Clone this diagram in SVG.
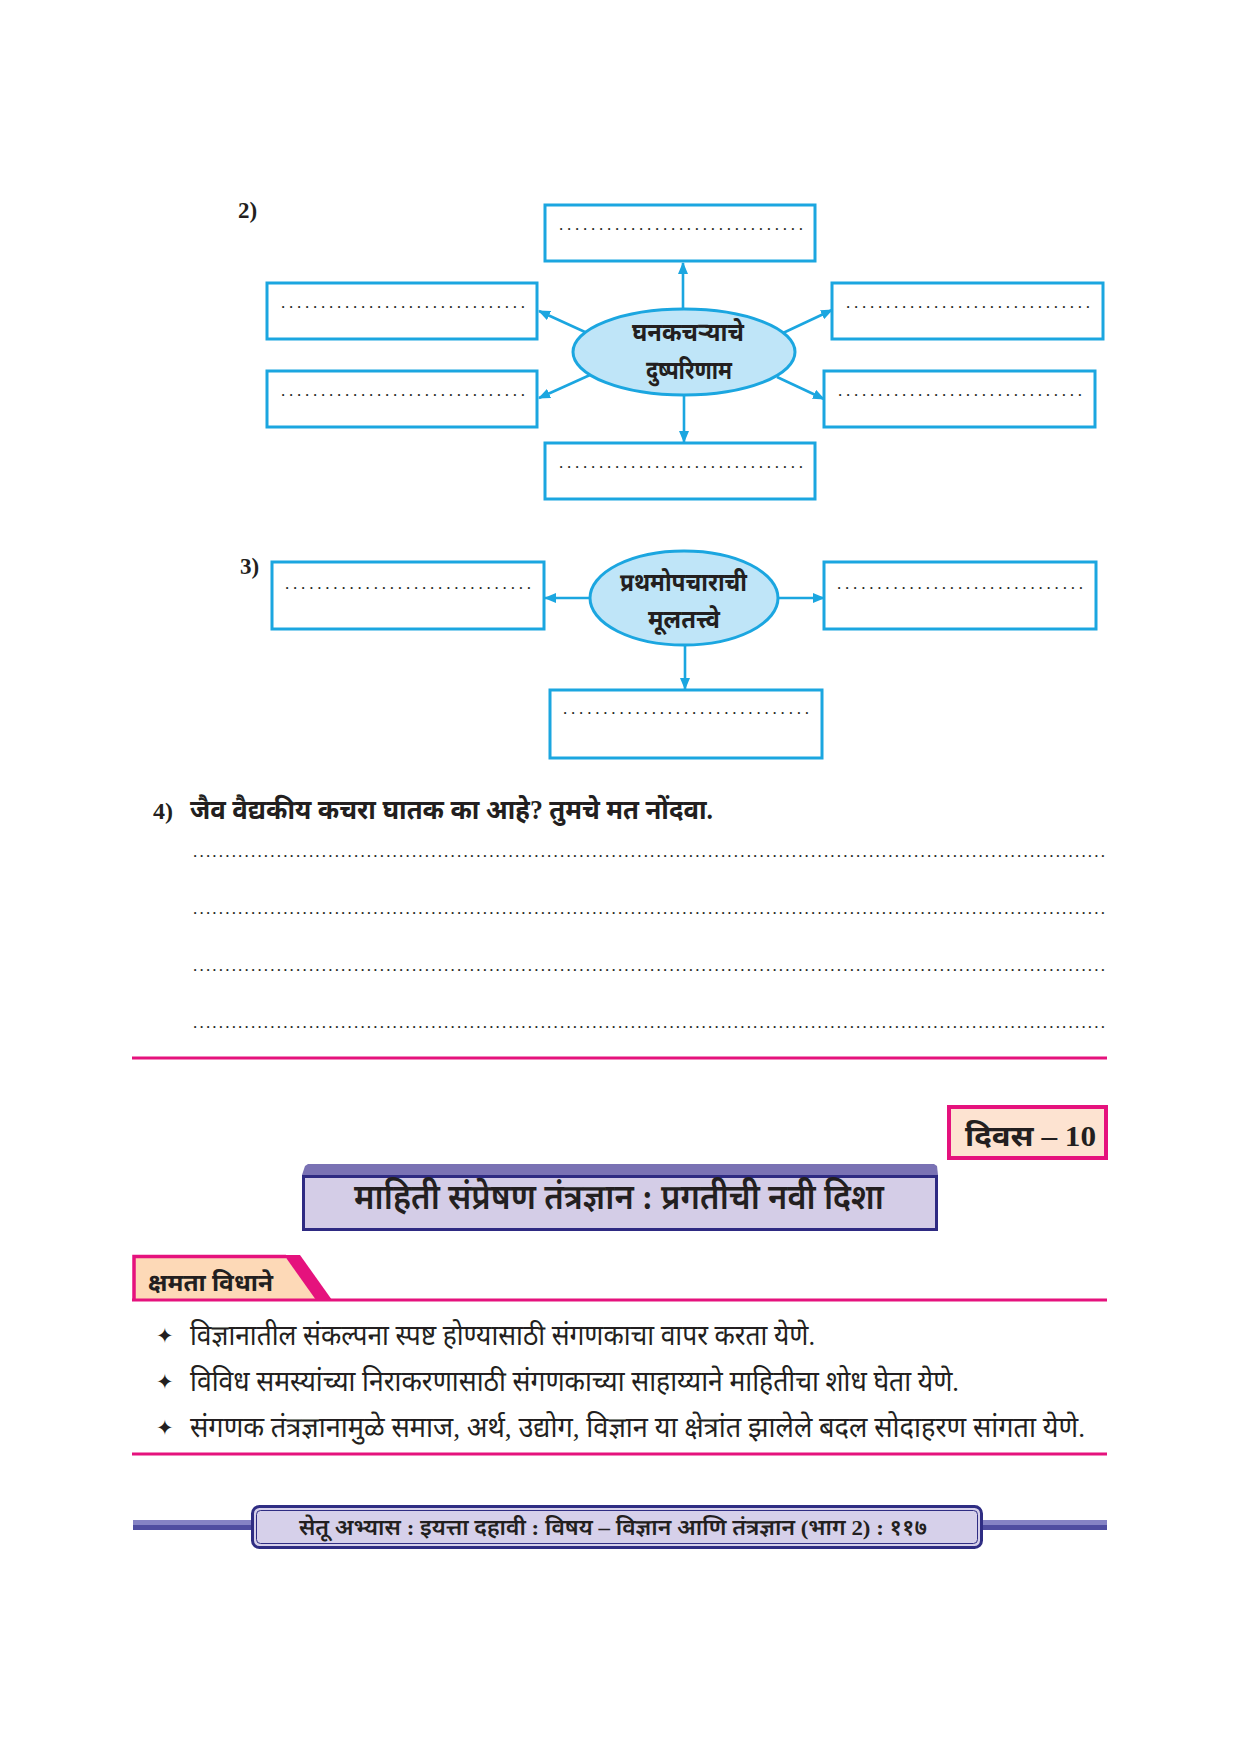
<svg xmlns="http://www.w3.org/2000/svg" width="1240" height="1754" viewBox="0 0 1240 1754">
<style>
.t{font-family:"Liberation Serif","Noto Sans Devanagari","Noto Serif Devanagari","Lohit Devanagari","Noto Sans",serif;fill:#231f20}
.b{font-weight:bold}
.box{fill:#fff;stroke:#1ba6e0;stroke-width:3}
.ell{fill:#bfe5f8;stroke:#1ba6e0;stroke-width:3}
.con{stroke:#1ba6e0;stroke-width:2.6;fill:none}
.dots{font-family:"Liberation Serif",serif;font-size:17px;fill:#231f20}
.mag{stroke:#e5127d;stroke-width:3}
.star{font-family:"DejaVu Sans",sans-serif;font-size:21px;fill:#231f20}
</style>
<defs>
<marker id="ah" viewBox="0 0 12 10" refX="11" refY="5" markerWidth="12" markerHeight="10" markerUnits="userSpaceOnUse" orient="auto">
<path d="M0,0 L12,5 L0,10 Z" fill="#1ba6e0"/>
</marker>
</defs>
<rect width="1240" height="1754" fill="#fff"/>

<!-- Question 2 -->
<text class="t b" x="238" y="218" font-size="23">2)</text>
<g id="q2-center"><ellipse class="ell" cx="684" cy="352" rx="111" ry="43"/>
<text class="t b" x="632" y="341" font-size="26" textLength="112" lengthAdjust="spacingAndGlyphs">घनकचऱ्याचे</text>
<text class="t b" x="646" y="379" font-size="26" textLength="86" lengthAdjust="spacingAndGlyphs">दुष्परिणाम</text></g>
<g id="q2-top"><rect class="box" x="545" y="205" width="270" height="56"/><text class="dots" x="559" y="230" textLength="244" lengthAdjust="spacing">...............................</text></g>
<g id="q2-lu"><rect class="box" x="267" y="283" width="270" height="56"/><text class="dots" x="281" y="308" textLength="244" lengthAdjust="spacing">...............................</text></g>
<g id="q2-ru"><rect class="box" x="832" y="283" width="271" height="56"/><text class="dots" x="846" y="308" textLength="244" lengthAdjust="spacing">...............................</text></g>
<g id="q2-ll"><rect class="box" x="267" y="371" width="270" height="56"/><text class="dots" x="281" y="396" textLength="244" lengthAdjust="spacing">...............................</text></g>
<g id="q2-rl"><rect class="box" x="824" y="371" width="271" height="56"/><text class="dots" x="838" y="396" textLength="244" lengthAdjust="spacing">...............................</text></g>
<g id="q2-bottom"><rect class="box" x="545" y="443" width="270" height="56"/><text class="dots" x="559" y="468" textLength="244" lengthAdjust="spacing">...............................</text></g>

<!-- Question 3 -->
<text class="t b" x="240" y="574" font-size="23">3)</text>
<g id="q3-center"><ellipse class="ell" cx="684" cy="598" rx="94" ry="47"/>
<text class="t b" x="620" y="591" font-size="25" textLength="127" lengthAdjust="spacingAndGlyphs">प्रथमोपचाराची</text>
<text class="t b" x="648" y="628" font-size="25" textLength="72" lengthAdjust="spacingAndGlyphs">मूलतत्त्वे</text></g>
<g id="q3-left"><rect class="box" x="272" y="562" width="272" height="67"/><text class="dots" x="285" y="589" textLength="246" lengthAdjust="spacing">...............................</text></g>
<g id="q3-right"><rect class="box" x="824" y="562" width="272" height="67"/><text class="dots" x="837" y="589" textLength="246" lengthAdjust="spacing">...............................</text></g>
<g id="q3-bottom"><rect class="box" x="550" y="690" width="272" height="68"/><text class="dots" x="563" y="714" textLength="246" lengthAdjust="spacing">...............................</text></g>

<g id="connectors">
<line class="con" x1="683" y1="309" x2="683" y2="263" marker-end="url(#ah)"/>
<line class="con" x1="585" y1="332" x2="539" y2="311" marker-end="url(#ah)"/>
<line class="con" x1="783" y1="333" x2="832" y2="310" marker-end="url(#ah)"/>
<line class="con" x1="590" y1="375" x2="539" y2="398" marker-end="url(#ah)"/>
<line class="con" x1="777" y1="377" x2="824" y2="399" marker-end="url(#ah)"/>
<line class="con" x1="684" y1="395" x2="684" y2="442" marker-end="url(#ah)"/>
<line class="con" x1="590" y1="598" x2="545" y2="598" marker-end="url(#ah)"/>
<line class="con" x1="778" y1="598" x2="824" y2="598" marker-end="url(#ah)"/>
<line class="con" x1="685" y1="645" x2="685" y2="689" marker-end="url(#ah)"/>
</g>

<!-- Question 4 -->
<text class="t b" x="153" y="819" font-size="24">4)</text>
<text class="t b" x="190" y="819" font-size="27" textLength="523" lengthAdjust="spacingAndGlyphs">जैव वैद्यकीय कचरा घातक का आहे? तुमचे मत नोंदवा.</text>
<text class="dots" x="193" y="857" textLength="912" lengthAdjust="spacing">..............................................................................................................................................</text>
<text class="dots" x="193" y="914" textLength="912" lengthAdjust="spacing">..............................................................................................................................................</text>
<text class="dots" x="193" y="971" textLength="912" lengthAdjust="spacing">..............................................................................................................................................</text>
<text class="dots" x="193" y="1028" textLength="912" lengthAdjust="spacing">..............................................................................................................................................</text>
<line class="mag" x1="132" y1="1058" x2="1107" y2="1058"/>

<!-- Day box -->
<g id="day">
<rect x="949" y="1107" width="157" height="51" fill="#fde3d1" stroke="#e5127d" stroke-width="4"/>
<text class="t b" x="965" y="1146" font-size="29" textLength="131" lengthAdjust="spacingAndGlyphs">दिवस – 10</text>
</g>

<!-- Title banner -->
<g id="title">
<path d="M302,1175 L305,1166 L308,1164 L934,1164 L937,1166 L938,1175 Z" fill="#7a72b4"/>
<rect x="303.5" y="1176.5" width="633" height="53" fill="#d4cde7" stroke="#2e2a82" stroke-width="3"/>
<text class="t" x="354" y="1209" font-size="35" font-weight="600" textLength="530" lengthAdjust="spacingAndGlyphs">माहिती संप्रेषण तंत्रज्ञान : प्रगतीची नवी दिशा</text>
</g>

<!-- Capability tab -->
<g id="tab">
<path d="M134,1300 L134,1256.5 L285,1256.5 L318,1300 Z" fill="#fdd9b7"/>
<path d="M134,1300 L134,1256.5 L286,1256.5" fill="none" stroke="#e5127d" stroke-width="3.5"/>
<path d="M284,1255 L300,1255 L332,1300 L316,1300 Z" fill="#e5127d"/>
<text class="t b" x="148" y="1291" font-size="24" textLength="125" lengthAdjust="spacingAndGlyphs">क्षमता विधाने</text>
</g>
<line class="mag" x1="132" y1="1300" x2="1107" y2="1300"/>

<g id="bullets" font-size="28">
<text class="star" x="156" y="1343">✦</text>
<text class="t" x="190" y="1345" textLength="625" lengthAdjust="spacingAndGlyphs">विज्ञानातील संकल्पना स्पष्ट होण्यासाठी संगणकाचा वापर करता येणे.</text>
<text class="star" x="156" y="1389">✦</text>
<text class="t" x="190" y="1391" textLength="769" lengthAdjust="spacingAndGlyphs">विविध समस्यांच्या निराकरणासाठी संगणकाच्या साहाय्याने माहितीचा शोध घेता येणे.</text>
<text class="star" x="156" y="1435">✦</text>
<text class="t" x="190" y="1437" textLength="895" lengthAdjust="spacingAndGlyphs">संगणक तंत्रज्ञानामुळे समाज, अर्थ, उद्योग, विज्ञान या क्षेत्रांत झालेले बदल सोदाहरण सांगता येणे.</text>
</g>
<line class="mag" x1="132" y1="1454" x2="1107" y2="1454"/>

<!-- Footer -->
<g id="footer">
<rect x="133" y="1520" width="119" height="5" fill="#8583c4"/>
<rect x="133" y="1525" width="119" height="5" fill="#4f4da0"/>
<rect x="982" y="1520" width="125" height="5" fill="#8583c4"/>
<rect x="982" y="1525" width="125" height="5" fill="#4f4da0"/>
<rect x="252.5" y="1506.5" width="729" height="41" rx="7" fill="#d6d0ea" stroke="#2f2d83" stroke-width="3"/>
<rect x="256.5" y="1510.5" width="721" height="33" rx="4" fill="none" stroke="#2f2d83" stroke-width="1"/>
<text class="t" x="299" y="1535" font-size="22" font-weight="600" textLength="628" lengthAdjust="spacingAndGlyphs">सेतू अभ्यास : इयत्ता दहावी : विषय –  विज्ञान आणि तंत्रज्ञान (भाग 2) : ११७</text>
</g>
</svg>
